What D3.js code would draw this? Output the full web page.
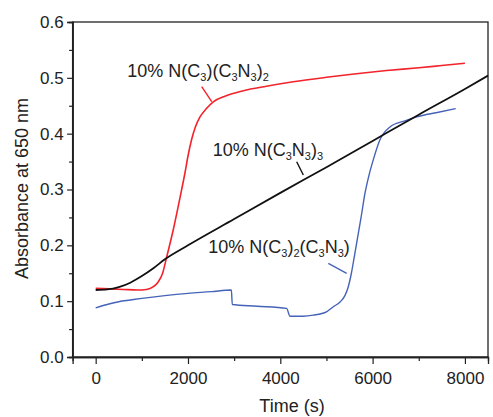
<!DOCTYPE html>
<html><head><meta charset="utf-8">
<script src="https://cdn.jsdelivr.net/npm/d3@7"></script>
<style>
body{margin:0;background:#fff;}
svg text{font-family:"Liberation Sans",Arial,sans-serif;fill:#222;}
</style></head>
<body><svg id="c" width="493" height="417"></svg>
<script>
const blackT = [0,250,500,750,1000,1250,1500,2000,3000,4000,5000,6000,7000,8000,8500];
const blackA = [0.120,0.121,0.125,0.133,0.145,0.159,0.175,0.200,0.247,0.294,0.340,0.387,0.434,0.480,0.504];

const redT = [0,300,600,900,1100,1250,1350,1450,1538,1681,1826,1935,2000,2080,2160,2260,2400,2548,2800,3200,3700,4281,5000,5600,6300,7000,7500,8000];
const redA = [0.123,0.122,0.121,0.120,0.121,0.126,0.134,0.150,0.179,0.228,0.285,0.330,0.360,0.390,0.412,0.430,0.445,0.457,0.467,0.477,0.485,0.493,0.501,0.507,0.513,0.518,0.522,0.526];

const blueT = [0,250,500,750,1000,1500,2000,2500,2940,2960,3500,4137,4210,4500,4714,5000,5150,5300,5400,5470,5540,5600,5654,5750,5834,5920,6014,6159,6376,6700,6954,7400,7800];
const blueA = [0.088,0.094,0.099,0.102,0.105,0.110,0.114,0.117,0.120,0.094,0.091,0.087,0.073,0.073,0.075,0.081,0.090,0.099,0.110,0.125,0.150,0.178,0.204,0.250,0.293,0.325,0.353,0.389,0.412,0.423,0.430,0.438,0.445];

const xTicks = [0,2000,4000,6000,8000];
const xMinor = [1000,3000,5000,7000];
const yTicks = [0.0,0.1,0.2,0.3,0.4,0.5,0.6];
const yMinor = [0.05,0.15,0.25,0.35,0.45,0.55];

const svg = d3.select("#c");
const x = d3.scaleLinear().domain([-500,8500]).range([72.6,488]);
const y = d3.scaleLinear().domain([0,0.6]).range([357,22]);
const axisCol = "#222";

// frame
svg.append("rect").attr("x",x(-500)).attr("y",y(0.6))
  .attr("width",x(8500)-x(-500)).attr("height",y(0)-y(0.6))
  .attr("fill","none").attr("stroke",axisCol).attr("stroke-width",1.3);

// axes
const gx = svg.append("g").attr("transform",`translate(0,${y(0)})`)
  .call(d3.axisBottom(x).tickValues(xTicks).tickSize(7).tickPadding(7.5).tickFormat(d3.format("d")));
const gxm = svg.append("g").attr("transform",`translate(0,${y(0)})`)
  .call(d3.axisBottom(x).tickValues(xMinor).tickSize(4).tickFormat(""));
const gy = svg.append("g").attr("transform",`translate(${x(-500)},0)`)
  .call(d3.axisLeft(y).tickValues(yTicks).tickSize(5.5).tickPadding(3.5).tickFormat(d3.format(".1f")));
const gym = svg.append("g").attr("transform",`translate(${x(-500)},0)`)
  .call(d3.axisLeft(y).tickValues(yMinor).tickSize(3.5).tickFormat(""));
[gx,gxm,gy,gym].forEach(g=>{
  g.select(".domain").attr("stroke",axisCol).attr("stroke-width",1.3);
  g.selectAll(".tick line").attr("stroke",axisCol).attr("stroke-width",1.2);
  g.selectAll(".tick text").attr("font-size",17).attr("fill","#222")
   .attr("font-family","Liberation Sans, Arial, sans-serif");
});
gxm.selectAll(".tick text").remove();
gym.selectAll(".tick text").remove();

// axis titles
svg.append("text").attr("x",292).attr("y",411.5).attr("text-anchor","middle")
  .attr("font-size",18).text("Time (s)");
svg.append("text").attr("transform","translate(27.5,188.5) rotate(-90)")
  .attr("text-anchor","middle").attr("font-size",18).text("Absorbance at 650 nm");

// lines
const line = d3.line().x(d=>x(d[0])).y(d=>y(d[1])).curve(d3.curveMonotoneX);
function series(T,A,col,w){
  svg.append("path").datum(T.map((t,i)=>[t,A[i]]))
    .attr("d",line).attr("fill","none").attr("stroke",col).attr("stroke-width",w)
    .attr("stroke-linejoin","round");
}
const cRed="#f2232b", cBlue="#4563b8", cBlack="#111";
series(blueT,blueA,cBlue,1.4);
series(redT,redA,cRed,1.6);
series(blackT,blackA,cBlack,1.8);

// labels with subscripts
function label(xp,yp,parts){
  const t = svg.append("text").attr("x",xp).attr("y",yp).attr("font-size",18);
  let sub = false;
  parts.forEach(p=>{
    if(typeof p==="string"){
      t.append("tspan").attr("dy",sub?-4:0).text(p);
      sub = false;
    } else {
      t.append("tspan").attr("font-size",11).attr("dy",sub?0:4).text(p.s);
      sub = true;
    }
  });
}
label(127.3,76.7,["10% N(C",{s:"3"},")(C",{s:"3"},"N",{s:"3"},")",{s:"2"}]);
label(212.7,156,["10%  N(C",{s:"3"},"N",{s:"3"},")",{s:"3"}]);
label(208.3,252.7,["10% N(C",{s:"3"},")",{s:"2"},"(C",{s:"3"},"N",{s:"3"},")"]);

// leader lines
function leader(x1,y1,x2,y2,col){
  svg.append("line").attr("x1",x1).attr("y1",y1).attr("x2",x2).attr("y2",y2)
    .attr("stroke",col).attr("stroke-width",1.4);
}
leader(201.7,86.7,211.7,101.7,cRed);
leader(296.7,161.7,303.3,175,cBlack);
leader(328.3,263.3,346.7,273.3,cBlue);
</script></body></html>
